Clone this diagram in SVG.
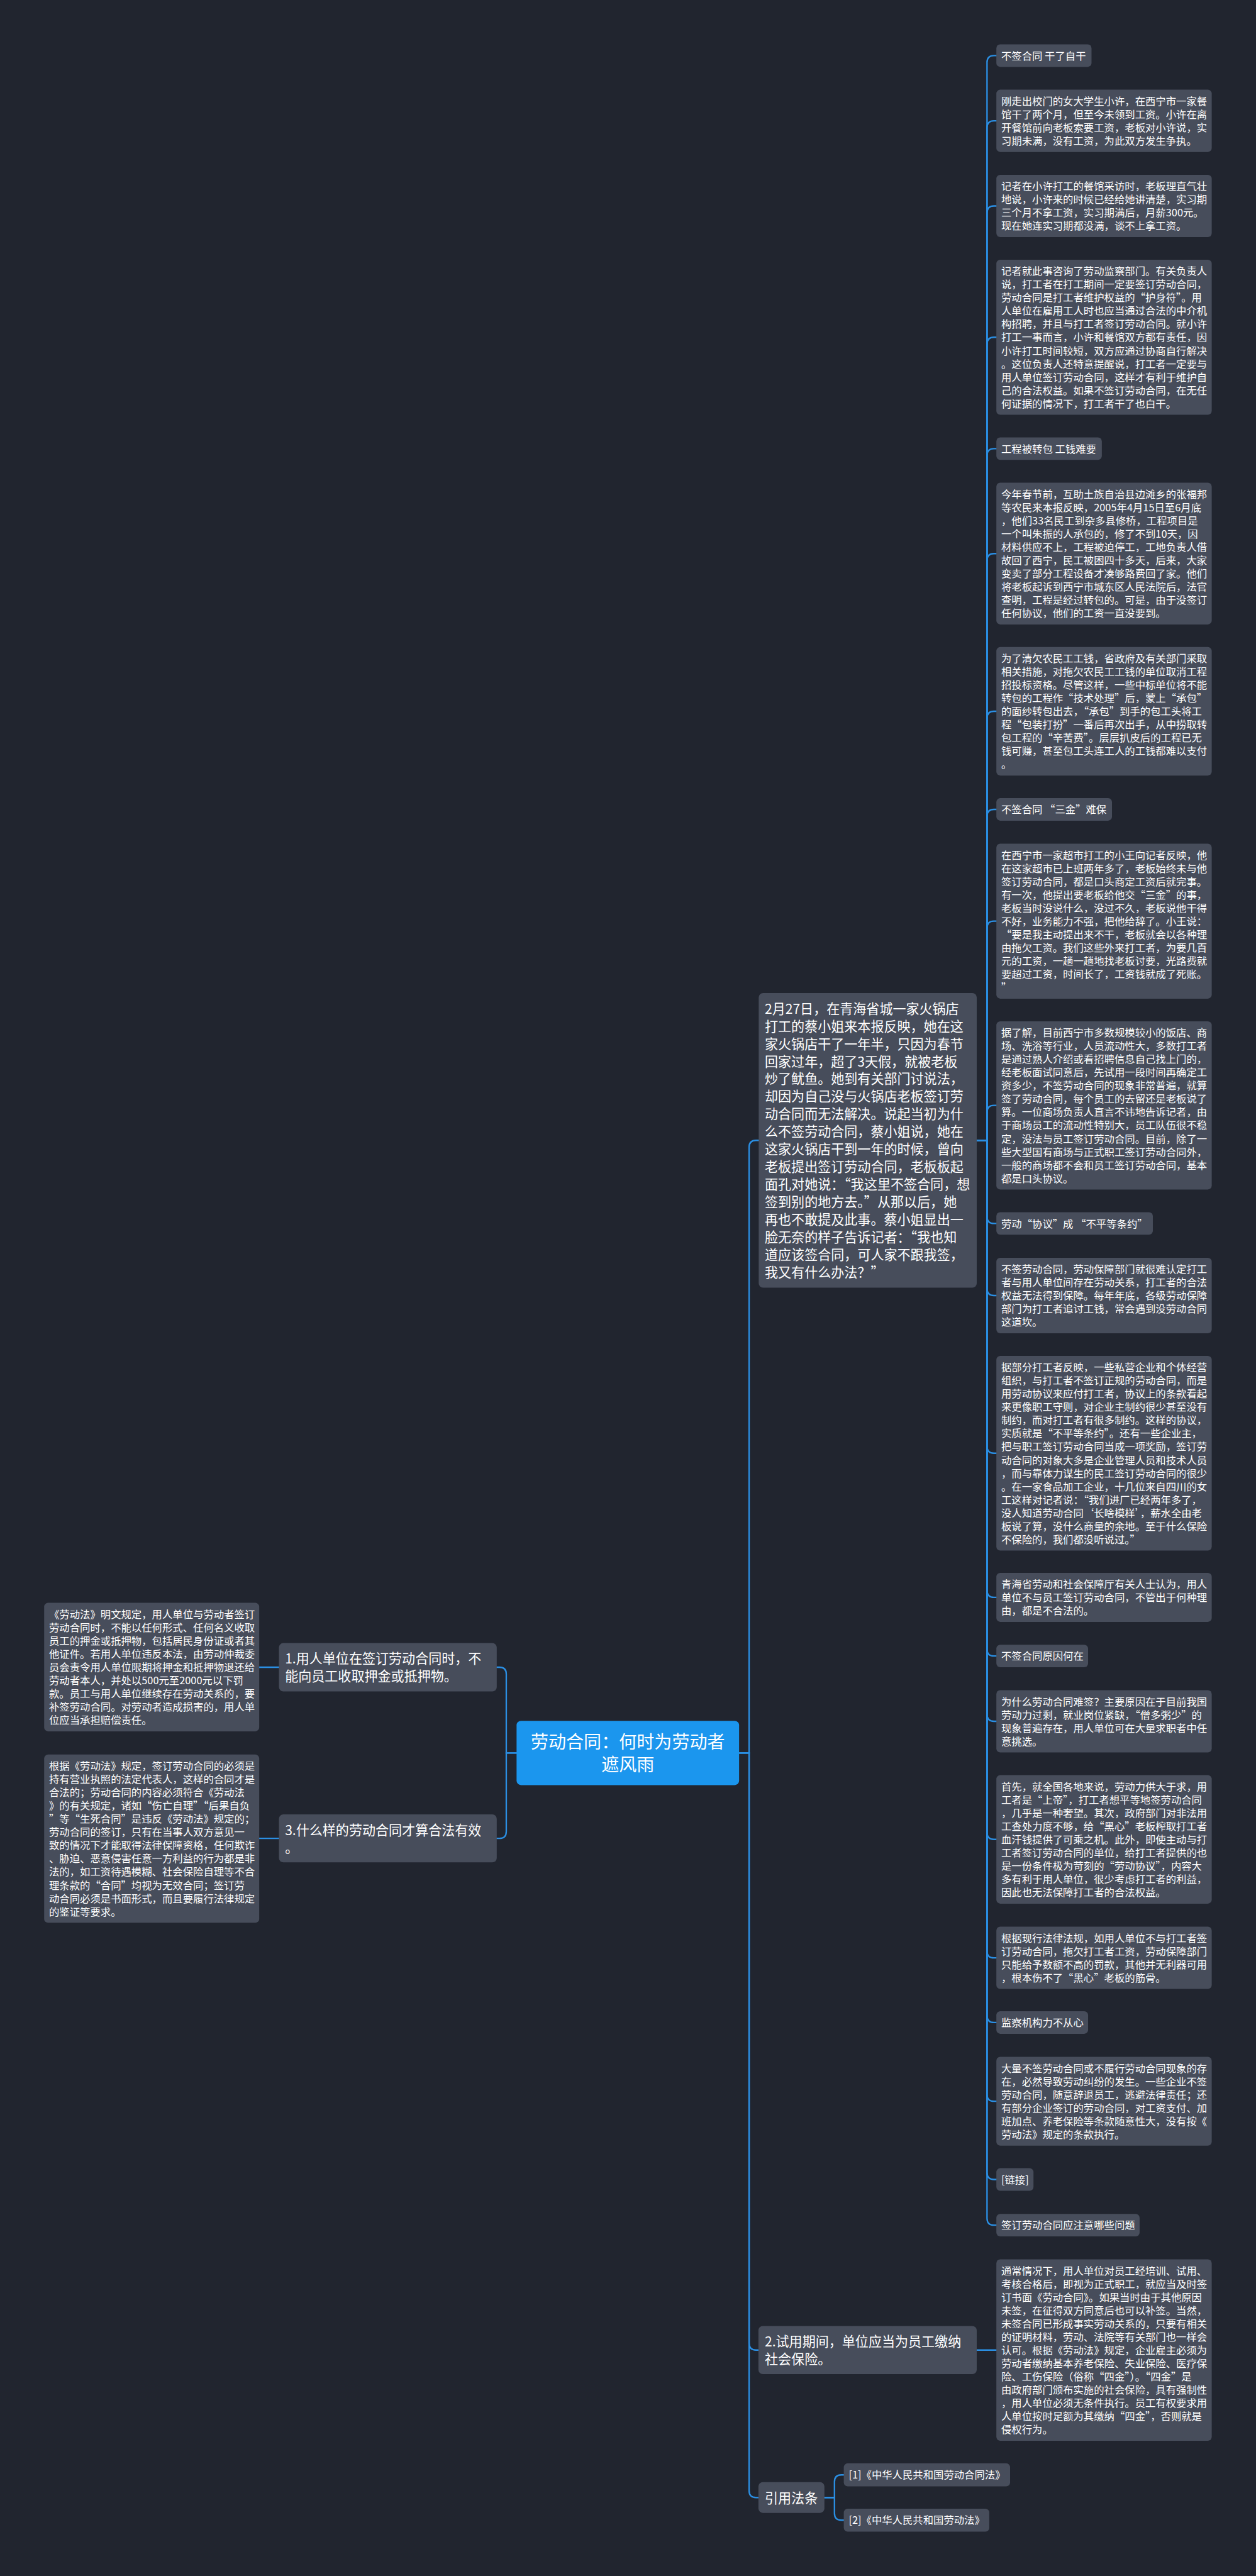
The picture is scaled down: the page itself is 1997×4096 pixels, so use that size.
<svg xmlns="http://www.w3.org/2000/svg" width="1997" height="4096" viewBox="0 0 1997 4096">
<style>
.bg{fill:#21252f}
.box{fill:#474d5b}
.root{fill:#1b96ee}
text{font-family:"Noto Sans CJK SC","Noto Sans",sans-serif;fill:#ffffff}
.s{font-size:21px}
.m{font-size:27px}
.r{font-size:36px;text-anchor:middle}
.c{fill:none;stroke:#2b8fe3;stroke-width:3;stroke-linecap:round}
</style>
<rect class="bg" x="0" y="0" width="1997" height="4096"/>
<g transform="scale(0.78)">
<g id="connectors">
<path class="c" d="M1507 3573.5H1527V2338.7Q1527 2324.7 1541 2324.7H1546.6"/>
<path class="c" d="M1507 3573.5H1527V4776.7Q1527 4790.7 1541 4790.7H1546"/>
<path class="c" d="M1507 3573.5H1527V5077.3Q1527 5091.3 1541 5091.3H1546"/>
<path class="c" d="M1053 3573.5H1032V3412.7Q1032 3398.7 1018 3398.7H1012.6"/>
<path class="c" d="M1053 3573.5H1032V3733.6Q1032 3747.6 1018 3747.6H1012.6"/>
<path class="c" d="M568.6 3398.7H528.4"/>
<path class="c" d="M568.6 3747.6H528.4"/>
<path class="c" d="M1991 4790.7H2031"/>
<path class="c" d="M1680.5 5091.3H1701V5059.2Q1701 5045.2 1715 5045.2H1720"/>
<path class="c" d="M1680.5 5091.3H1701V5123.5Q1701 5137.5 1715 5137.5H1720"/>
<path class="c" d="M1991 2324.7H2012V127.4Q2012 113.4 2026 113.4H2031"/>
<path class="c" d="M1991 2324.7H2012V260.3Q2012 246.3 2026 246.3H2031"/>
<path class="c" d="M1991 2324.7H2012V433.9Q2012 419.9 2026 419.9H2031"/>
<path class="c" d="M1991 2324.7H2012V701.5Q2012 687.5 2026 687.5H2031"/>
<path class="c" d="M1991 2324.7H2012V928.6Q2012 914.6 2026 914.6H2031"/>
<path class="c" d="M1991 2324.7H2012V1142.5Q2012 1128.5 2026 1128.5H2031"/>
<path class="c" d="M1991 2324.7H2012V1464Q2012 1450 2026 1450H2031"/>
<path class="c" d="M1991 2324.7H2012V1664Q2012 1650 2026 1650H2031"/>
<path class="c" d="M1991 2324.7H2012V1891.8Q2012 1877.8 2026 1877.8H2031"/>
<path class="c" d="M1991 2324.7H2012V2267.4Q2012 2253.4 2026 2253.4H2031"/>
<path class="c" d="M1991 2324.7H2012V2480Q2012 2494 2026 2494H2031"/>
<path class="c" d="M1991 2324.7H2012V2627Q2012 2641 2026 2641H2031"/>
<path class="c" d="M1991 2324.7H2012V2948.5Q2012 2962.5 2026 2962.5H2031"/>
<path class="c" d="M1991 2324.7H2012V3242.3Q2012 3256.3 2026 3256.3H2031"/>
<path class="c" d="M1991 2324.7H2012V3361.8Q2012 3375.8 2026 3375.8H2031"/>
<path class="c" d="M1991 2324.7H2012V3495Q2012 3509 2026 3509H2031"/>
<path class="c" d="M1991 2324.7H2012V3735.7Q2012 3749.7 2026 3749.7H2031"/>
<path class="c" d="M1991 2324.7H2012V3977.1Q2012 3991.1 2026 3991.1H2031"/>
<path class="c" d="M1991 2324.7H2012V4109Q2012 4123 2026 4123H2031"/>
<path class="c" d="M1991 2324.7H2012V4269.5Q2012 4283.5 2026 4283.5H2031"/>
<path class="c" d="M1991 2324.7H2012V4429Q2012 4443 2026 4443H2031"/>
<path class="c" d="M1991 2324.7H2012V4522Q2012 4536 2026 4536H2031"/>
</g>

<g id="root">
<rect class="root" x="1053" y="3508" width="453.6" height="131" rx="9"/>
<text class="r"><tspan x="1279.8" y="3563.7">劳动合同：何时为劳动者</tspan><tspan x="1279.8" y="3610.4">遮风雨</tspan></text>
</g>

<g id="feb27">
<rect class="box" x="1546.6" y="2024.4" width="444.4" height="600.6" rx="9"/>
<text class="m">
<tspan x="1559" y="2066.4">2月27日，在青海省城一家火锅店</tspan>
<tspan x="1559" y="2102.2">打工的蔡小姐来本报反映，她在这</tspan>
<tspan x="1559" y="2138">家火锅店干了一年半，只因为春节</tspan>
<tspan x="1559" y="2173.8">回家过年，超了3天假，就被老板</tspan>
<tspan x="1559" y="2209.6">炒了鱿鱼。她到有关部门讨说法，</tspan>
<tspan x="1559" y="2245.4">却因为自己没与火锅店老板签订劳</tspan>
<tspan x="1559" y="2281.2">动合同而无法解决。说起当初为什</tspan>
<tspan x="1559" y="2317">么不签劳动合同，蔡小姐说，她在</tspan>
<tspan x="1559" y="2352.8">这家火锅店干到一年的时候，曾向</tspan>
<tspan x="1559" y="2388.6">老板提出签订劳动合同，老板板起</tspan>
<tspan x="1559" y="2424.4">面孔对她说：“我这里不签合同，想</tspan>
<tspan x="1559" y="2460.2">签到别的地方去。”从那以后，她</tspan>
<tspan x="1559" y="2496">再也不敢提及此事。蔡小姐显出一</tspan>
<tspan x="1559" y="2531.8">脸无奈的样子告诉记者：“我也知</tspan>
<tspan x="1559" y="2567.6">道应该签合同，可人家不跟我签，</tspan>
<tspan x="1559" y="2603.4">我又有什么办法？”</tspan>
</text>
</g>

<g id="n1">
<rect class="box" x="2031" y="90.4" width="194" height="46" rx="8"/>
<text class="s" x="2041" y="121.4">不签合同 干了自干</text>
</g>
<g id="n2">
<rect class="box" x="2031" y="182.8" width="439" height="127" rx="8"/>
<text class="s">
<tspan x="2041" y="213.8">刚走出校门的女大学生小许，在西宁市一家餐</tspan>
<tspan x="2041" y="240.8">馆干了两个月，但至今未领到工资。小许在离</tspan>
<tspan x="2041" y="267.8">开餐馆前向老板索要工资，老板对小许说，实</tspan>
<tspan x="2041" y="294.8">习期未满，没有工资，为此双方发生争执。</tspan>
</text>
</g>
<g id="n3">
<rect class="box" x="2031" y="356.4" width="439" height="127" rx="8"/>
<text class="s">
<tspan x="2041" y="387.4">记者在小许打工的餐馆采访时，老板理直气壮</tspan>
<tspan x="2041" y="414.4">地说，小许来的时候已经给她讲清楚，实习期</tspan>
<tspan x="2041" y="441.4">三个月不拿工资，实习期满后，月薪300元。</tspan>
<tspan x="2041" y="468.4">现在她连实习期都没满，谈不上拿工资。</tspan>
</text>
</g>
<g id="n4">
<rect class="box" x="2031" y="529.5" width="439" height="316" rx="8"/>
<text class="s">
<tspan x="2041" y="560.5">记者就此事咨询了劳动监察部门。有关负责人</tspan>
<tspan x="2041" y="587.5">说，打工者在打工期间一定要签订劳动合同，</tspan>
<tspan x="2041" y="614.5">劳动合同是打工者维护权益的“护身符”。用</tspan>
<tspan x="2041" y="641.5">人单位在雇用工人时也应当通过合法的中介机</tspan>
<tspan x="2041" y="668.5">构招聘，并且与打工者签订劳动合同。就小许</tspan>
<tspan x="2041" y="695.5">打工一事而言，小许和餐馆双方都有责任，因</tspan>
<tspan x="2041" y="722.5">小许打工时间较短，双方应通过协商自行解决</tspan>
<tspan x="2041" y="749.5">。这位负责人还特意提醒说，打工者一定要与</tspan>
<tspan x="2041" y="776.5">用人单位签订劳动合同，这样才有利于维护自</tspan>
<tspan x="2041" y="803.5">己的合法权益。如果不签订劳动合同，在无任</tspan>
<tspan x="2041" y="830.5">何证据的情况下，打工者干了也白干。</tspan>
</text>
</g>
<g id="n5">
<rect class="box" x="2031" y="891.6" width="215" height="46" rx="8"/>
<text class="s" x="2041" y="922.6">工程被转包 工钱难要</text>
</g>
<g id="n6">
<rect class="box" x="2031" y="984" width="439" height="289" rx="8"/>
<text class="s">
<tspan x="2041" y="1015">今年春节前，互助土族自治县边滩乡的张福邦</tspan>
<tspan x="2041" y="1042">等农民来本报反映，2005年4月15日至6月底</tspan>
<tspan x="2041" y="1069">，他们33名民工到杂多县修桥，工程项目是</tspan>
<tspan x="2041" y="1096">一个叫朱振的人承包的，修了不到10天，因</tspan>
<tspan x="2041" y="1123">材料供应不上，工程被迫停工，工地负责人借</tspan>
<tspan x="2041" y="1150">故回了西宁，民工被困四十多天，后来，大家</tspan>
<tspan x="2041" y="1177">变卖了部分工程设备才凑够路费回了家。他们</tspan>
<tspan x="2041" y="1204">将老板起诉到西宁市城东区人民法院后，法官</tspan>
<tspan x="2041" y="1231">查明，工程是经过转包的。可是，由于没签订</tspan>
<tspan x="2041" y="1258">任何协议，他们的工资一直没要到。</tspan>
</text>
</g>
<g id="n7">
<rect class="box" x="2031" y="1319" width="439" height="262" rx="8"/>
<text class="s">
<tspan x="2041" y="1350">为了清欠农民工工钱，省政府及有关部门采取</tspan>
<tspan x="2041" y="1377">相关措施，对拖欠农民工工钱的单位取消工程</tspan>
<tspan x="2041" y="1404">招投标资格。尽管这样，一些中标单位将不能</tspan>
<tspan x="2041" y="1431">转包的工程作“技术处理”后，蒙上“承包”</tspan>
<tspan x="2041" y="1458">的面纱转包出去，“承包”到手的包工头将工</tspan>
<tspan x="2041" y="1485">程“包装打扮”一番后再次出手，从中捞取转</tspan>
<tspan x="2041" y="1512">包工程的“辛苦费”。层层扒皮后的工程已无</tspan>
<tspan x="2041" y="1539">钱可赚，甚至包工头连工人的工钱都难以支付</tspan>
<tspan x="2041" y="1566">。</tspan>
</text>
</g>
<g id="n8">
<rect class="box" x="2031" y="1627" width="235.7" height="46" rx="8"/>
<text class="s" x="2041" y="1658">不签合同 “三金”难保</text>
</g>
<g id="n9">
<rect class="box" x="2031" y="1719.8" width="439" height="316" rx="8"/>
<text class="s">
<tspan x="2041" y="1750.8">在西宁市一家超市打工的小王向记者反映，他</tspan>
<tspan x="2041" y="1777.8">在这家超市已上班两年多了，老板始终未与他</tspan>
<tspan x="2041" y="1804.8">签订劳动合同，都是口头商定工资后就完事。</tspan>
<tspan x="2041" y="1831.8">有一次，他提出要老板给他交“三金”的事，</tspan>
<tspan x="2041" y="1858.8">老板当时没说什么，没过不久，老板说他干得</tspan>
<tspan x="2041" y="1885.8">不好，业务能力不强，把他给辞了。小王说：</tspan>
<tspan x="2041" y="1912.8">“要是我主动提出来不干，老板就会以各种理</tspan>
<tspan x="2041" y="1939.8">由拖欠工资。我们这些外来打工者，为要几百</tspan>
<tspan x="2041" y="1966.8">元的工资，一趟一趟地找老板讨要，光路费就</tspan>
<tspan x="2041" y="1993.8">要超过工资，时间长了，工资钱就成了死账。</tspan>
<tspan x="2041" y="2020.8">”</tspan>
</text>
</g>
<g id="n10">
<rect class="box" x="2031" y="2081.9" width="439" height="343" rx="8"/>
<text class="s">
<tspan x="2041" y="2112.9">据了解，目前西宁市多数规模较小的饭店、商</tspan>
<tspan x="2041" y="2139.9">场、洗浴等行业，人员流动性大，多数打工者</tspan>
<tspan x="2041" y="2166.9">是通过熟人介绍或看招聘信息自己找上门的，</tspan>
<tspan x="2041" y="2193.9">经老板面试同意后，先试用一段时间再确定工</tspan>
<tspan x="2041" y="2220.9">资多少，不签劳动合同的现象非常普遍，就算</tspan>
<tspan x="2041" y="2247.9">签了劳动合同，每个员工的去留还是老板说了</tspan>
<tspan x="2041" y="2274.9">算。一位商场负责人直言不讳地告诉记者，由</tspan>
<tspan x="2041" y="2301.9">于商场员工的流动性特别大，员工队伍很不稳</tspan>
<tspan x="2041" y="2328.9">定，没法与员工签订劳动合同。目前，除了一</tspan>
<tspan x="2041" y="2355.9">些大型国有商场与正式职工签订劳动合同外，</tspan>
<tspan x="2041" y="2382.9">一般的商场都不会和员工签订劳动合同，基本</tspan>
<tspan x="2041" y="2409.9">都是口头协议。</tspan>
</text>
</g>
<g id="n11">
<rect class="box" x="2031" y="2471" width="319" height="46" rx="8"/>
<text class="s" x="2041" y="2502">劳动“协议”成 “不平等条约”</text>
</g>
<g id="n12">
<rect class="box" x="2031" y="2564" width="439" height="154" rx="8"/>
<text class="s">
<tspan x="2041" y="2595">不签劳动合同，劳动保障部门就很难认定打工</tspan>
<tspan x="2041" y="2622">者与用人单位间存在劳动关系，打工者的合法</tspan>
<tspan x="2041" y="2649">权益无法得到保障。每年年底，各级劳动保障</tspan>
<tspan x="2041" y="2676">部门为打工者追讨工钱，常会遇到没劳动合同</tspan>
<tspan x="2041" y="2703">这道坎。</tspan>
</text>
</g>
<g id="n13">
<rect class="box" x="2031" y="2764" width="439" height="397" rx="8"/>
<text class="s">
<tspan x="2041" y="2795">据部分打工者反映，一些私营企业和个体经营</tspan>
<tspan x="2041" y="2822">组织，与打工者不签订正规的劳动合同，而是</tspan>
<tspan x="2041" y="2849">用劳动协议来应付打工者，协议上的条款看起</tspan>
<tspan x="2041" y="2876">来更像职工守则，对企业主制约很少甚至没有</tspan>
<tspan x="2041" y="2903">制约，而对打工者有很多制约。这样的协议，</tspan>
<tspan x="2041" y="2930">实质就是“不平等条约”。还有一些企业主，</tspan>
<tspan x="2041" y="2957">把与职工签订劳动合同当成一项奖励，签订劳</tspan>
<tspan x="2041" y="2984">动合同的对象大多是企业管理人员和技术人员</tspan>
<tspan x="2041" y="3011">，而与靠体力谋生的民工签订劳动合同的很少</tspan>
<tspan x="2041" y="3038">。在一家食品加工企业，十几位来自四川的女</tspan>
<tspan x="2041" y="3065">工这样对记者说：“我们进厂已经两年多了，</tspan>
<tspan x="2041" y="3092">没人知道劳动合同‘长啥模样’，薪水全由老</tspan>
<tspan x="2041" y="3119">板说了算，没什么商量的余地。至于什么保险</tspan>
<tspan x="2041" y="3146">不保险的，我们都没听说过。”</tspan>
</text>
</g>
<g id="n14">
<rect class="box" x="2031" y="3206.3" width="439" height="100" rx="8"/>
<text class="s">
<tspan x="2041" y="3237.3">青海省劳动和社会保障厅有关人士认为，用人</tspan>
<tspan x="2041" y="3264.3">单位不与员工签订劳动合同，不管出于何种理</tspan>
<tspan x="2041" y="3291.3">由，都是不合法的。</tspan>
</text>
</g>
<g id="n15">
<rect class="box" x="2031" y="3352.8" width="187" height="46" rx="8"/>
<text class="s" x="2041" y="3383.8">不签合同原因何在</text>
</g>
<g id="n16">
<rect class="box" x="2031" y="3445.5" width="439" height="127" rx="8"/>
<text class="s">
<tspan x="2041" y="3476.5">为什么劳动合同难签？主要原因在于目前我国</tspan>
<tspan x="2041" y="3503.5">劳动力过剩，就业岗位紧缺，“僧多粥少”的</tspan>
<tspan x="2041" y="3530.5">现象普遍存在，用人单位可在大量求职者中任</tspan>
<tspan x="2041" y="3557.5">意挑选。</tspan>
</text>
</g>
<g id="n17">
<rect class="box" x="2031" y="3618.7" width="439" height="262" rx="8"/>
<text class="s">
<tspan x="2041" y="3649.7">首先，就全国各地来说，劳动力供大于求，用</tspan>
<tspan x="2041" y="3676.7">工者是“上帝”，打工者想平等地签劳动合同</tspan>
<tspan x="2041" y="3703.7">，几乎是一种奢望。其次，政府部门对非法用</tspan>
<tspan x="2041" y="3730.7">工查处力度不够，给“黑心”老板榨取打工者</tspan>
<tspan x="2041" y="3757.7">血汗钱提供了可乘之机。此外，即使主动与打</tspan>
<tspan x="2041" y="3784.7">工者签订劳动合同的单位，给打工者提供的也</tspan>
<tspan x="2041" y="3811.7">是一份条件极为苛刻的“劳动协议”，内容大</tspan>
<tspan x="2041" y="3838.7">多有利于用人单位，很少考虑打工者的利益，</tspan>
<tspan x="2041" y="3865.7">因此也无法保障打工者的合法权益。</tspan>
</text>
</g>
<g id="n18">
<rect class="box" x="2031" y="3927.6" width="439" height="127" rx="8"/>
<text class="s">
<tspan x="2041" y="3958.6">根据现行法律法规，如用人单位不与打工者签</tspan>
<tspan x="2041" y="3985.6">订劳动合同，拖欠打工者工资，劳动保障部门</tspan>
<tspan x="2041" y="4012.6">只能给予数额不高的罚款，其他并无利器可用</tspan>
<tspan x="2041" y="4039.6">，根本伤不了“黑心”老板的筋骨。</tspan>
</text>
</g>
<g id="n19">
<rect class="box" x="2031" y="4100" width="187" height="46" rx="8"/>
<text class="s" x="2041" y="4131">监察机构力不从心</text>
</g>
<g id="n20">
<rect class="box" x="2031" y="4193" width="439" height="181" rx="8"/>
<text class="s">
<tspan x="2041" y="4224">大量不签劳动合同或不履行劳动合同现象的存</tspan>
<tspan x="2041" y="4251">在，必然导致劳动纠纷的发生。一些企业不签</tspan>
<tspan x="2041" y="4278">劳动合同，随意辞退员工，逃避法律责任；还</tspan>
<tspan x="2041" y="4305">有部分企业签订的劳动合同，对工资支付、加</tspan>
<tspan x="2041" y="4332">班加点、养老保险等条款随意性大，没有按《</tspan>
<tspan x="2041" y="4359">劳动法》规定的条款执行。</tspan>
</text>
</g>
<g id="n21">
<rect class="box" x="2031" y="4420" width="75.7" height="46" rx="8"/>
<text class="s" x="2041" y="4451">[链接]</text>
</g>
<g id="n22">
<rect class="box" x="2031" y="4513" width="292" height="46" rx="8"/>
<text class="s" x="2041" y="4544">签订劳动合同应注意哪些问题</text>
</g>

<g id="trial">
<rect class="box" x="1546" y="4741.7" width="445" height="98" rx="9"/>
<text class="m"><tspan x="1559" y="4783.7">2.试用期间，单位应当为员工缴纳</tspan><tspan x="1559" y="4819.5">社会保险。</tspan></text>
</g>
<g id="trial-detail">
<rect class="box" x="2031" y="4605.7" width="439" height="370" rx="8"/>
<text class="s">
<tspan x="2041" y="4636.7">通常情况下，用人单位对员工经培训、试用、</tspan>
<tspan x="2041" y="4663.7">考核合格后，即视为正式职工，就应当及时签</tspan>
<tspan x="2041" y="4690.7">订书面《劳动合同》。如果当时由于其他原因</tspan>
<tspan x="2041" y="4717.7">未签，在征得双方同意后也可以补签。当然，</tspan>
<tspan x="2041" y="4744.7">未签合同已形成事实劳动关系的，只要有相关</tspan>
<tspan x="2041" y="4771.7">的证明材料，劳动、法院等有关部门也一样会</tspan>
<tspan x="2041" y="4798.7">认可。根据《劳动法》规定，企业雇主必须为</tspan>
<tspan x="2041" y="4825.7">劳动者缴纳基本养老保险、失业保险、医疗保</tspan>
<tspan x="2041" y="4852.7">险、工伤保险（俗称“四金”）。“四金”是</tspan>
<tspan x="2041" y="4879.7">由政府部门颁布实施的社会保险，具有强制性</tspan>
<tspan x="2041" y="4906.7">，用人单位必须无条件执行。员工有权要求用</tspan>
<tspan x="2041" y="4933.7">人单位按时足额为其缴纳“四金”，否则就是</tspan>
<tspan x="2041" y="4960.7">侵权行为。</tspan>
</text>
</g>

<g id="refs">
<rect class="box" x="1546" y="5060" width="134.5" height="62.6" rx="9"/>
<text class="m" x="1559" y="5102">引用法条</text>
</g>
<g id="ref1">
<rect class="box" x="1720" y="5021.6" width="339" height="47" rx="8"/>
<text class="s" x="1730" y="5052.6">[1]《中华人民共和国劳动合同法》</text>
</g>
<g id="ref2">
<rect class="box" x="1720" y="5114" width="296.6" height="47" rx="8"/>
<text class="s" x="1730" y="5145">[2]《中华人民共和国劳动法》</text>
</g>

<g id="left1">
<rect class="box" x="568.6" y="3349.5" width="444" height="98.5" rx="9"/>
<text class="m"><tspan x="581" y="3391.5">1.用人单位在签订劳动合同时，不</tspan><tspan x="581" y="3427.3">能向员工收取押金或抵押物。</tspan></text>
</g>
<g id="left1-detail">
<rect class="box" x="90" y="3267.4" width="438.4" height="262" rx="8"/>
<text class="s">
<tspan x="100" y="3298.4">《劳动法》明文规定，用人单位与劳动者签订</tspan>
<tspan x="100" y="3325.4">劳动合同时，不能以任何形式、任何名义收取</tspan>
<tspan x="100" y="3352.4">员工的押金或抵押物，包括居民身份证或者其</tspan>
<tspan x="100" y="3379.4">他证件。若用人单位违反本法，由劳动仲裁委</tspan>
<tspan x="100" y="3406.4">员会责令用人单位限期将押金和抵押物退还给</tspan>
<tspan x="100" y="3433.4">劳动者本人，并处以500元至2000元以下罚</tspan>
<tspan x="100" y="3460.4">款。员工与用人单位继续存在劳动关系的，要</tspan>
<tspan x="100" y="3487.4">补签劳动合同。对劳动者造成损害的，用人单</tspan>
<tspan x="100" y="3514.4">位应当承担赔偿责任。</tspan>
</text>
</g>
<g id="left3">
<rect class="box" x="568.6" y="3698.6" width="444" height="98" rx="9"/>
<text class="m"><tspan x="581" y="3740.6">3.什么样的劳动合同才算合法有效</tspan><tspan x="581" y="3776.4">。</tspan></text>
</g>
<g id="left3-detail">
<rect class="box" x="90" y="3576.7" width="438.4" height="343" rx="8"/>
<text class="s">
<tspan x="100" y="3607.7">根据《劳动法》规定，签订劳动合同的必须是</tspan>
<tspan x="100" y="3634.7">持有营业执照的法定代表人，这样的合同才是</tspan>
<tspan x="100" y="3661.7">合法的；劳动合同的内容必须符合《劳动法</tspan>
<tspan x="100" y="3688.7">》的有关规定，诸如“伤亡自理”“后果自负</tspan>
<tspan x="100" y="3715.7">”等“生死合同”是违反《劳动法》规定的；</tspan>
<tspan x="100" y="3742.7">劳动合同的签订，只有在当事人双方意见一</tspan>
<tspan x="100" y="3769.7">致的情况下才能取得法律保障资格，任何欺诈</tspan>
<tspan x="100" y="3796.7">、胁迫、恶意侵害任意一方利益的行为都是非</tspan>
<tspan x="100" y="3823.7">法的，如工资待遇模糊、社会保险自理等不合</tspan>
<tspan x="100" y="3850.7">理条款的“合同”均视为无效合同；签订劳</tspan>
<tspan x="100" y="3877.7">动合同必须是书面形式，而且要履行法律规定</tspan>
<tspan x="100" y="3904.7">的鉴证等要求。</tspan>
</text>
</g>
</g>
</svg>
